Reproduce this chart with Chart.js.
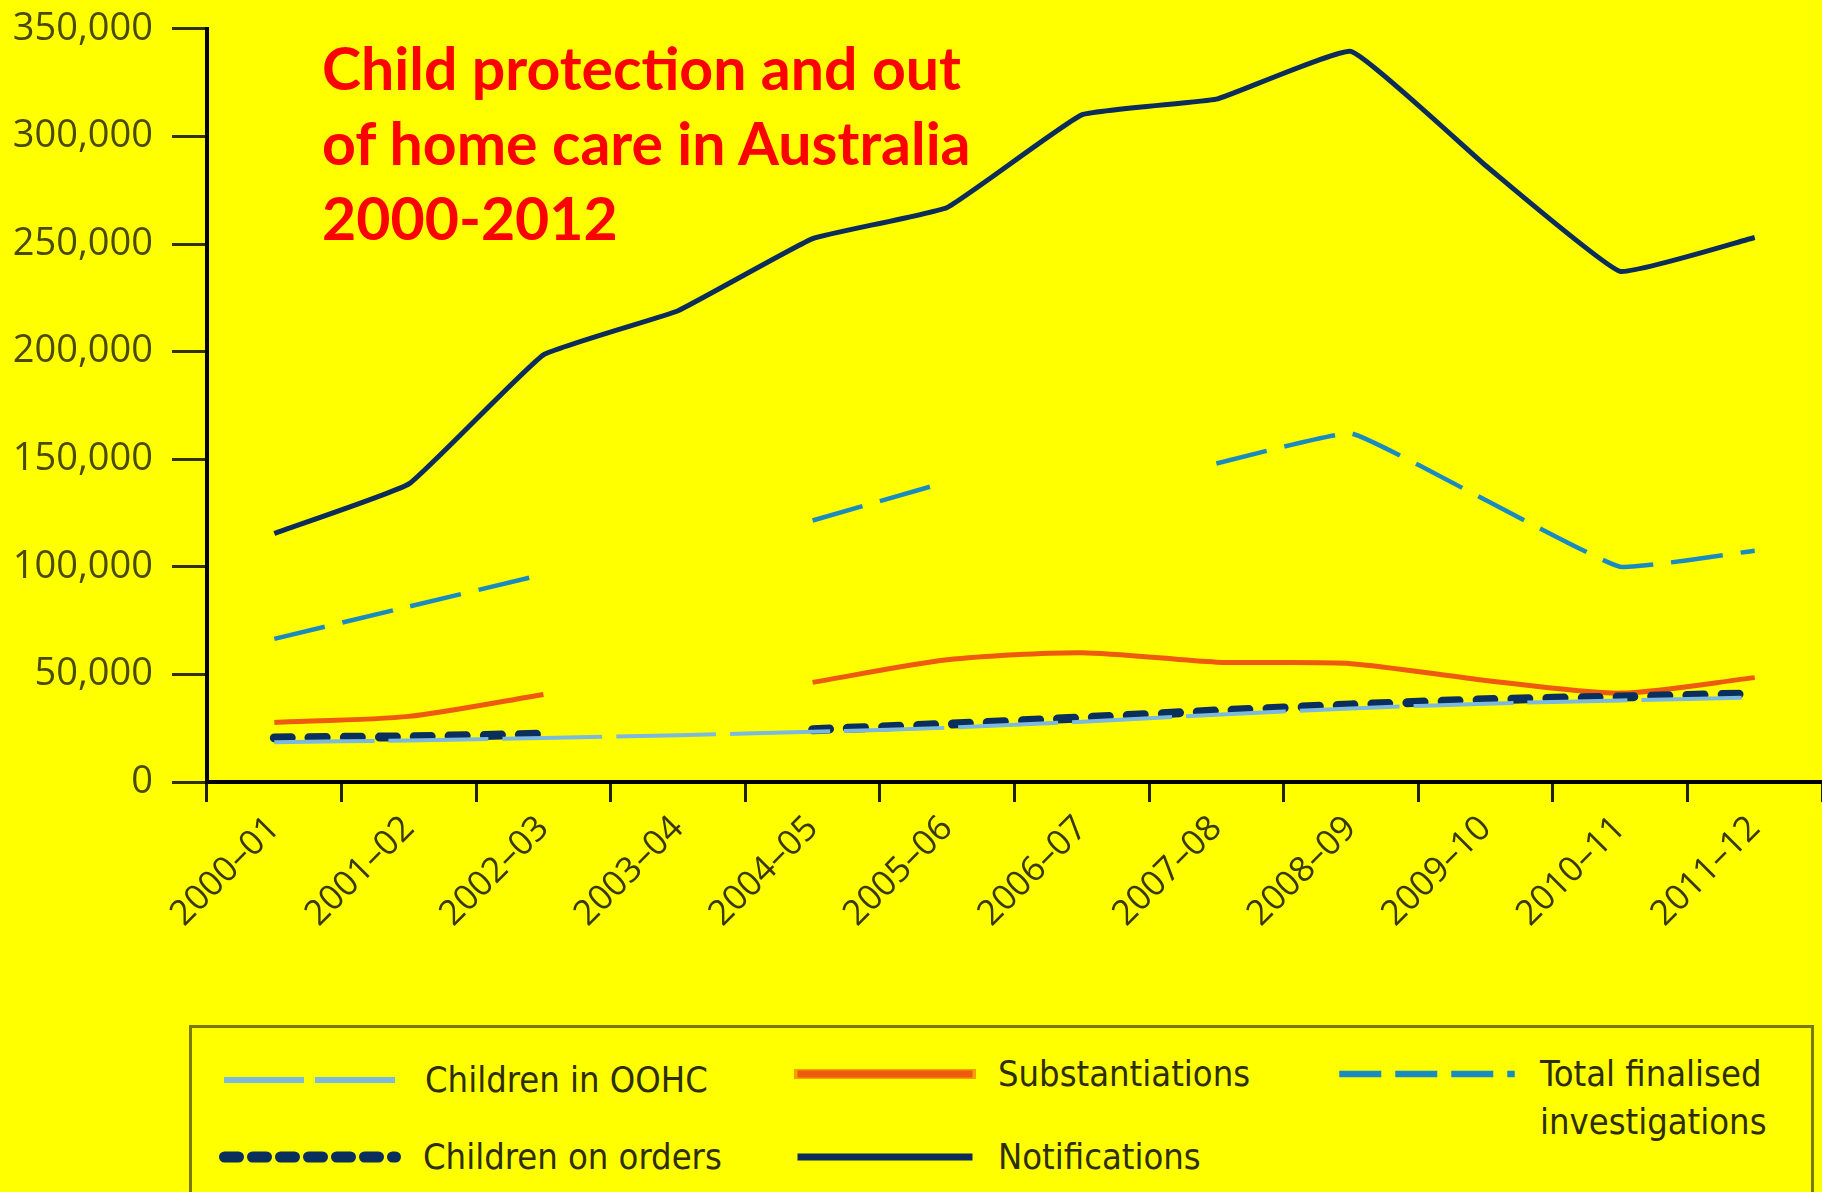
<!DOCTYPE html>
<html>
<head>
<meta charset="utf-8">
<script src="https://cdn.jsdelivr.net/npm/chart.js@4.4.1/dist/chart.umd.min.js"></script>
<style>
  html, body { margin: 0; padding: 0; background: #ffff00; }
  body { width: 1822px; height: 1192px; position: relative; overflow: hidden; }
  #chart { position: absolute; left: 0; top: -13px; }
  #title {
    position: absolute; left: 322px; top: 30px;
    font-family: Lato, "Open Sans", sans-serif; font-weight: bold;
    font-size: 59px; line-height: 75px; color: #ff0000;
  }
  #legend {
    position: absolute; left: 189px; top: 1025px; width: 1625px; height: 200px;
    border: 3px solid #7a7a00; box-sizing: border-box;
  }
  .item { position: absolute; display: flex; align-items: center; }
  .item.top { align-items: flex-start; }
  .item.top svg { margin-top: 12px; }
  .item span {
    font-family: "DejaVu Sans Condensed", "Liberation Sans Narrow", "DejaVu Sans", sans-serif;
    font-stretch: condensed; font-size: 36px; line-height: 48px; color: #2e2e00; margin-left: 20px;
  }
</style>
</head>
<body>
<canvas id="chart" width="1822" height="1023"></canvas>
<div id="title">Child protection and out<br>of home care in Australia<br>2000-2012</div>
<div id="legend"></div>
<script>
const categories = ['2000–01', '2001–02', '2002–03', '2003–04', '2004–05', '2005–06',
                    '2006–07', '2007–08', '2008–09', '2009–10', '2010–11', '2011–12'];

const oohc = [18500, 19300, 20500, 21700, 23300, 25200, 28000, 31300, 34200, 36400, 37900, 39300];
const orders = [20500, 21000, 22200, null, 24300, 26800, 29800, 33000, 35800, 38200, 39500, 41000];
const substantiations = [27700, 30500, 40700, null, 46300, 56800, 60100, 55700, 55000, 47200, 41300, 48500];
const investigations = [66500, 81500, 96500, null, 121500, 139500, null, 148000, 162000, 131000, 100000, 107500];
const notifications = [115500, 138500, 198500, 219000, 252500, 267000, 310000, 317300, 339500, 286500, 237300, 253000];

const yTicks = [0, 50000, 100000, 150000, 200000, 250000, 300000, 350000];

// OOHC first so it is painted on top of the orders line
const datasets = [
  { label: 'Children in OOHC', data: oohc, borderColor: '#7cb9dc', borderWidth: 4,
    borderDash: [100, 14], tension: 0.15 },
  { label: 'Children on orders', data: orders, borderColor: '#0b2f5c', borderWidth: 9,
    borderDash: [17, 18], borderCapStyle: 'round', tension: 0.15 },
  { label: 'Substantiations', data: substantiations, borderColor: '#ee5a0e', borderWidth: 5,
    tension: 0.25 },
  { label: 'Total finalised investigations', data: investigations, borderColor: '#1a8bbf',
    borderWidth: 4.5, borderDash: [52, 18], tension: 0.1 },
  { label: 'Notifications', data: notifications, borderColor: '#0c2c5a', borderWidth: 5,
    tension: 0.1 }
];

new Chart(document.getElementById('chart'), {
  type: 'line',
  data: { labels: categories, datasets: datasets.map(d => Object.assign({ fill: false, pointRadius: 0 }, d)) },
  options: {
    responsive: false,
    animation: false,
    layout: { padding: { top: 14, left: 0, right: 0, bottom: 0 } },
    plugins: { legend: { display: false }, tooltip: { enabled: false } },
    scales: {
      x: {
        offset: true,
        grid: { offset: true, drawOnChartArea: false, tickLength: 20, tickWidth: 3, tickColor: '#222200' },
        border: { color: '#000', width: 4 },
        ticks: {
          autoSkip: false, minRotation: 45, maxRotation: 45, padding: 6,
          color: '#3a3a00', font: { family: 'Open Sans', size: 35 }
        },
        afterFit(scale) { scale.height = 228; }
      },
      y: {
        min: 0, max: 350000,
        afterBuildTicks(scale) { scale.ticks = yTicks.map(v => ({ value: v })); },
        grid: { drawOnChartArea: false, tickLength: 35, tickWidth: 3, tickColor: '#333300' },
        border: { color: '#000', width: 4 },
        ticks: {
          padding: 19, color: '#4a4a00', font: { family: 'Open Sans', size: 38 },
          callback: v => v.toLocaleString('en-US')
        },
        afterFit(scale) { scale.width = 207; }
      }
    }
  }
});

// legend, laid out like the original three-column box
const legendSpots = [
  { idx: 0, left: 27, top: 28 },
  { idx: 2, left: 600, top: 22 },
  { idx: 3, left: 1142, top: 22, top2: true },
  { idx: 1, left: 25, top: 105 },
  { idx: 4, left: 600, top: 105 }
];
const legend = document.getElementById('legend');
legendSpots.forEach(s => {
  const d = datasets[s.idx];
  const item = document.createElement('div');
  item.className = s.top2 ? 'item top' : 'item';
  item.style.left = s.left + 'px';
  item.style.top = s.top + 'px';
  const dash = d.borderDash ? d.borderDash.map(v => Math.round(v * 0.8)).join(' ') : 'none';
  const w = d.borderWidth + 2;
  let svg = `<svg width="186" height="24">`;
  if (d.label === 'Substantiations') {
    svg += `<line x1="2" y1="12" x2="184" y2="12" stroke="#f5a000" stroke-width="10"/>`;
  }
  svg += `<line x1="${w / 2 + 2}" y1="12" x2="${184 - w / 2}" y2="12" stroke="${d.borderColor}" stroke-width="${w}"
    stroke-dasharray="${dash}" stroke-linecap="${d.borderCapStyle === 'round' ? 'round' : 'butt'}"/></svg>`;
  const text = d.label === 'Total finalised investigations' ? 'Total finalised<br>investigations' : d.label;
  item.innerHTML = svg + `<span>${text}</span>`;
  legend.appendChild(item);
});
</script>
</body>
</html>
